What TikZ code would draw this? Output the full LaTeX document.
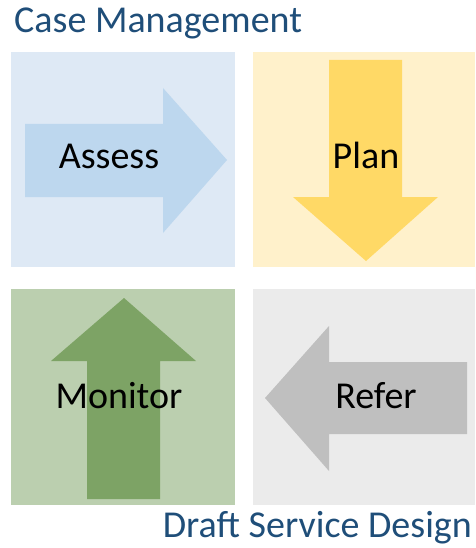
\documentclass[tikz,border=0pt]{standalone}
\usepackage{fontspec}
\setmainfont{Carlito}
\definecolor{titleblue}{HTML}{1F4E79}
\definecolor{bluebox}{HTML}{DEE9F5}
\definecolor{bluearrow}{HTML}{BDD7EE}
\definecolor{yellowbox}{HTML}{FFF1CB}
\definecolor{yellowarrow}{HTML}{FFD966}
\definecolor{greenbox}{HTML}{BBCFAF}
\definecolor{greenarrow}{HTML}{7DA365}
\definecolor{greybox}{HTML}{EBEBEB}
\definecolor{greyarrow}{HTML}{BFBFBF}
\begin{document}
\begin{tikzpicture}[x=1pt,y=-1pt,
  quad/.style={draw=none,inner sep=0pt,minimum width=224pt,minimum height=215pt,anchor=north west},
  lbl/.style={font=\fontsize{38}{38}\selectfont,text=black,inner sep=0pt,anchor=base},
  ttl/.style={font=\fontsize{38}{38}\selectfont,text=titleblue,inner sep=0pt}]
\useasboundingbox (0,0) rectangle (475,548);
\node[quad,fill=bluebox] (qa) at (11,52) {};
\node[quad,fill=yellowbox,minimum width=222pt] (qp) at (253,52) {};
\node[quad,fill=greenbox,minimum height=216pt] (qm) at (11,289) {};
\node[quad,fill=greybox,minimum width=222pt,minimum height=216pt] (qr) at (253,289) {};
% arrows
\fill[bluearrow] (25,124) -- (163,124) -- (163,88) -- (227,160) -- (163,233) -- (163,197) -- (25,197) -- cycle;
\fill[yellowarrow] (329,60) -- (402,60) -- (402,197) -- (438,197) -- (366,261) -- (293,197) -- (329,197) -- cycle;
\fill[greenarrow] (87,499) -- (160,499) -- (160,361) -- (196,361) -- (124,298) -- (51,361) -- (87,361) -- cycle;
\fill[greyarrow] (467,362) -- (329,362) -- (329,326) -- (265,398) -- (329,471) -- (329,434) -- (467,434) -- cycle;
% labels
\node[lbl] (la) at (109,168) {Assess};
\node[lbl] (lp) at (366,168) {Plan};
\node[lbl] (lm) at (119,408) {Monitor};
\node[lbl] (lr) at (376,408) {Refer};
\node[ttl,anchor=base west] (t1) at (14,33) {Case Management};
\node[ttl,anchor=base east] (t2) at (472,537) {Draft Service Design};
\end{tikzpicture}
\end{document}
